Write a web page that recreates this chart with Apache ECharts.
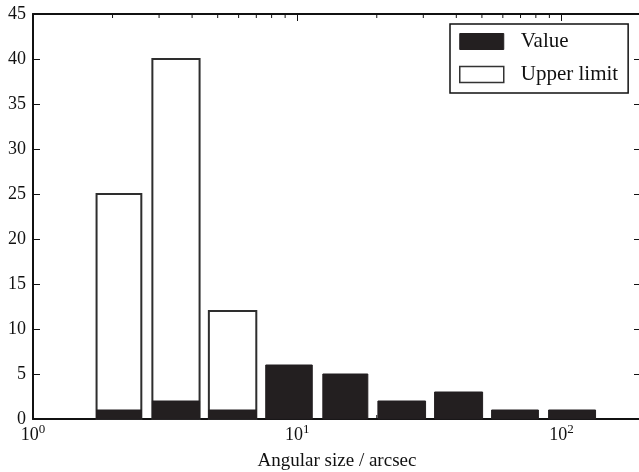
<!DOCTYPE html>
<html>
<head>
<meta charset="utf-8">
<script src="https://cdn.jsdelivr.net/npm/echarts@6/dist/echarts.min.js"></script>
<style>html,body{margin:0;padding:0;background:#fff;}#c{width:639px;height:472px;}</style>
</head>
<body>
<div id="c"></div>
<script>
// Bin edges (arcsec)
var binLeft  = [1.74, 2.83, 4.63, 7.6, 12.5, 20.2, 33.1, 54.4, 89.4];
var binRight = [2.57, 4.27, 7.0, 11.4, 18.5, 30.6, 50.3, 81.8, 134.6];
var values      = [1, 2, 1, 6, 5, 2, 3, 1, 1];
var upperLimits = [25, 40, 12, null, null, null, null, null, null];
var minorTickValues = [2, 3, 4, 5, 6, 7, 8, 9, 20, 30, 40, 50, 60, 70, 80, 90];

var FONT = 'Liberation Serif';
var INK = '#231f20';

var valueData = [], upperData = [];
for (var i = 0; i < values.length; i++) {
  valueData.push([binLeft[i], binRight[i], values[i]]);
  if (upperLimits[i] != null) upperData.push([binLeft[i], binRight[i], upperLimits[i]]);
}

function barRender(fill, stroke, lw) {
  return function (params, api) {
    var p0 = api.coord([api.value(0), 0]);
    var p1 = api.coord([api.value(1), api.value(2)]);
    return {
      type: 'rect',
      shape: { x: p0[0], y: p1[1], width: p1[0] - p0[0], height: p0[1] - p1[1] },
      style: { fill: fill, stroke: stroke, lineWidth: lw }
    };
  };
}

var chart = echarts.init(document.getElementById('c'), null, { renderer: 'canvas' });

function logLabel(v) {
  var e = Math.round(Math.log(v) / Math.LN10);
  if (Math.abs(Math.pow(10, e) - v) > 1e-6 * v) return '';
  return '{b|10}{s|' + e + '}';
}

function axisLineStyle() { return { show: true, onZero: false, lineStyle: { color: '#111', width: 2 } }; }
function tickStyle() { return { show: true, inside: true, length: 7, lineStyle: { color: '#111', width: 1 } }; }

var option = {
  animation: false,
  backgroundColor: '#fff',
  textStyle: { fontFamily: FONT },
  grid: { left: 33, top: 14, width: 608, height: 405, containLabel: false, outerBoundsMode: 'none' },
  legend: {
    left: 450, top: 24,
    orient: 'vertical',
    itemWidth: 44, itemHeight: 16, itemGap: 12,
    padding: [7, 10, 8, 9],
    borderColor: '#111', borderWidth: 1.5, borderRadius: 0,
    backgroundColor: '#fff',
    textStyle: { fontFamily: FONT, fontSize: 21, color: '#111', padding: [0, 0, 0, 12] },
    data: [
      { name: 'Value', icon: 'rect', itemStyle: { color: INK, borderColor: INK, borderWidth: 1 } },
      { name: 'Upper limit', icon: 'rect', itemStyle: { color: '#fff', borderColor: '#333', borderWidth: 1.5 } }
    ]
  },
  xAxis: [
    {
      type: 'log', logBase: 10, min: 1, max: 200,
      position: 'bottom',
      name: 'Angular size / arcsec', nameLocation: 'middle', nameGap: 31,
      nameTextStyle: { fontFamily: FONT, fontSize: 19, color: '#111', verticalAlign: 'top' },
      axisLine: axisLineStyle(),
      axisTick: tickStyle(),
      axisLabel: {
        show: true, margin: 6, color: '#111', fontFamily: FONT,
        showMaxLabel: false,
        formatter: logLabel,
        rich: {
          b: { fontFamily: FONT, fontSize: 18, color: '#111', lineHeight: 20 },
          s: { fontFamily: FONT, fontSize: 13, color: '#111', padding: [0, 0, 10, 0], lineHeight: 20 }
        }
      },
      splitLine: { show: false }
    },
    {
      type: 'log', logBase: 10, min: 1, max: 200,
      position: 'top',
      axisLine: axisLineStyle(),
      axisTick: tickStyle(),
      axisLabel: { show: false },
      splitLine: { show: false }
    }
  ],
  yAxis: [
    {
      type: 'value', min: 0, max: 45, interval: 5,
      position: 'left',
      axisLine: axisLineStyle(),
      axisTick: tickStyle(),
      axisLabel: { show: true, margin: 7, color: '#111', fontFamily: FONT, fontSize: 18 },
      splitLine: { show: false }
    },
    {
      type: 'value', min: 0, max: 45, interval: 5,
      position: 'right',
      axisLine: axisLineStyle(),
      axisTick: tickStyle(),
      axisLabel: { show: false },
      splitLine: { show: false }
    }
  ],
  series: [
    {
      type: 'custom', name: 'Minor ticks', xAxisIndex: 1, yAxisIndex: 0,
      silent: true, z: 1,
      data: minorTickValues.map(function (v) { return [v]; }),
      encode: { x: 0 },
      renderItem: function (params, api) {
        var b = api.coord([api.value(0), 0]);
        var t = api.coord([api.value(0), 45]);
        return {
          type: 'group',
          children: [
            { type: 'line', shape: { x1: t[0], y1: t[1], x2: t[0], y2: t[1] + 4 }, style: { stroke: '#111', lineWidth: 1 } },
            { type: 'line', shape: { x1: b[0], y1: b[1], x2: b[0], y2: b[1] - 4 }, style: { stroke: '#111', lineWidth: 1 } }
          ]
        };
      }
    },
    {
      type: 'custom', name: 'Upper limit', xAxisIndex: 0, yAxisIndex: 0, z: 2,
      data: upperData,
      encode: { x: [0, 1], y: 2 },
      itemStyle: { color: '#fff', borderColor: '#333' },
      renderItem: barRender('#fff', '#2e2e2e', 2)
    },
    {
      type: 'custom', name: 'Value', xAxisIndex: 0, yAxisIndex: 0, z: 3,
      data: valueData,
      encode: { x: [0, 1], y: 2 },
      itemStyle: { color: INK },
      renderItem: barRender(INK, INK, 1)
    }
  ]
};
chart.setOption(option);
</script>
</body>
</html>
